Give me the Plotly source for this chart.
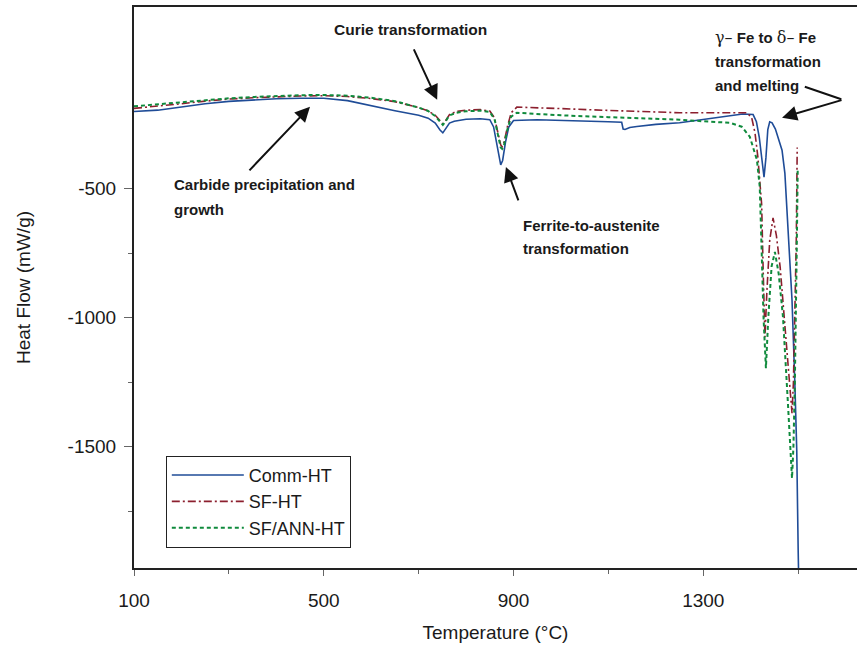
import plotly.graph_objects as go

# ---- data ----
comm_T = [100, 150, 200, 250, 300, 350, 400, 450, 500, 550, 600, 650, 700, 720, 735, 745, 751, 757, 765,
          775, 800, 830, 850, 858, 865, 870, 873, 877, 883, 890, 900, 950, 1000, 1050, 1100, 1128, 1131,
          1135, 1145, 1160, 1200, 1250, 1300, 1350, 1383, 1405, 1412, 1418, 1423, 1428, 1432, 1436, 1440,
          1445, 1452, 1460, 1466, 1472, 1476, 1480, 1487, 1493, 1497, 1500, 1502]
comm_Y = [-200, -195, -183, -170, -161, -155, -151, -149, -149, -158, -178, -197, -215, -226, -245, -272,
          -283, -268, -245, -238, -230, -228, -232, -260, -330, -390, -407, -390, -320, -260, -235, -232,
          -234, -236, -240, -242, -268, -270, -262, -258, -250, -244, -232, -218, -210, -212, -240, -300,
          -380, -455, -380, -270, -240, -244, -268, -315, -350, -440, -560, -700, -931, -1253, -1513,
          -1900, -2100]

sf_T = [100, 150, 200, 250, 300, 350, 400, 450, 500, 550, 600, 650, 700, 720, 735, 745, 751, 757, 765,
        780, 800, 830, 850, 860, 867, 873, 876, 880, 887, 895, 907, 950, 1000, 1100, 1200, 1250, 1300,
        1350, 1392, 1402, 1409, 1415, 1419, 1423, 1426, 1430, 1434, 1440, 1447, 1454, 1462, 1470, 1476,
        1483, 1487, 1490, 1493, 1496, 1498]
sf_Y = [-188, -180, -170, -160, -152, -147, -143, -140, -139, -142, -150, -162, -185, -198, -215, -238,
        -248, -235, -212, -200, -195, -193, -198, -225, -280, -330, -337, -320, -260, -205, -183, -185,
        -189, -196, -202, -205, -205, -204, -205, -224, -283, -376, -477, -560, -800, -1075, -900, -700,
        -613, -680, -803, -980, -1125, -1280, -1370, -1250, -997, -700, -340]

ann_T = [100, 150, 200, 250, 300, 350, 400, 450, 500, 550, 600, 650, 700, 720, 735, 745, 751, 757, 765,
         780, 800, 830, 850, 860, 867, 873, 876, 880, 887, 895, 907, 950, 1000, 1100, 1200, 1250, 1300,
         1356, 1381, 1398, 1413, 1419, 1423, 1427, 1432, 1437, 1444, 1451, 1459, 1468, 1478, 1487, 1490,
         1493, 1497, 1499]
ann_Y = [-180, -172, -163, -155, -149, -144, -140, -137, -136, -139, -147, -160, -185, -198, -218, -242,
         -252, -238, -215, -205, -199, -197, -202, -230, -290, -340, -345, -330, -270, -220, -205, -210,
         -215, -222, -228, -232, -238, -244, -259, -298, -387, -492, -737, -1000, -1195, -1000, -800,
         -745, -830, -997, -1319, -1622, -1500, -1253, -737, -430]

x_ticks = [100, 500, 900, 1300]
x_labels = ["100", "500", "900", "1300"]
x_minor = [300, 700, 1100, 1500]
y_ticks = [-500, -1000, -1500]
y_labels = ["-500", "-1000", "-1500"]
y_minor = [-750, -1250, -1750]

FONT = "Liberation Sans, Arial, Helvetica, sans-serif"

fig = go.Figure()
fig.add_trace(go.Scatter(x=comm_T, y=comm_Y, mode="lines", name="Comm-HT",
                         line=dict(color="#1f4c97", width=1.6)))
fig.add_trace(go.Scatter(x=sf_T, y=sf_Y, mode="lines", name="SF-HT",
                         line=dict(color="#8c1f2e", width=1.6, dash="8px,3px,2px,3px")))
fig.add_trace(go.Scatter(x=ann_T, y=ann_Y, mode="lines", name="SF/ANN-HT",
                         line=dict(color="#0f8a3c", width=2, dash="4px,3px")))

annots = []
bold = dict(family=FONT, size=15, color="#1a1a1a")
# text labels
annots.append(dict(x=682, y=117, text="<b>Curie transformation</b>", showarrow=False,
                   xanchor="center", yanchor="middle", font=dict(bold, size=15.5)))
annots.append(dict(x=180, y=-484, text="<b>Carbide precipitation and</b>", showarrow=False,
                   xanchor="left", yanchor="middle", font=bold))
annots.append(dict(x=180, y=-582, text="<b>growth</b>", showarrow=False,
                   xanchor="left", yanchor="middle", font=bold))
annots.append(dict(x=916, y=-644, text="<b>Ferrite-to-austenite</b>", showarrow=False,
                   xanchor="left", yanchor="middle", font=bold))
annots.append(dict(x=916, y=-733, text="<b>transformation</b>", showarrow=False,
                   xanchor="left", yanchor="middle", font=bold))
annots.append(dict(x=1320, y=86,
                   text="<span style='font-family:DejaVu Serif;font-size:16px'>γ–</span>&nbsp;<b>Fe to</b> "
                        "<span style='font-family:DejaVu Serif;font-size:16px'>δ–</span>&nbsp;<b>Fe</b>",
                   showarrow=False, xanchor="left", yanchor="middle", font=bold))
annots.append(dict(x=1320, y=-7, text="<b>transformation</b>", showarrow=False,
                   xanchor="left", yanchor="middle", font=bold))
annots.append(dict(x=1320, y=-100, text="<b>and melting</b>", showarrow=False,
                   xanchor="left", yanchor="middle", font=bold))

arrow = dict(showarrow=True, text="", arrowhead=2, arrowsize=1.5, arrowwidth=2,
             arrowcolor="#111111", xref="x", yref="y")
annots.append(dict(arrow, x=739, y=-155, ax=-24, ay=-52))
annots.append(dict(arrow, x=471, y=-182, ax=-62, ay=65))
annots.append(dict(arrow, x=884, y=-415, ax=13, ay=35))
annots.append(dict(arrow, x=1466, y=-224, ax=61, ay=-18))
annots.append(dict(arrow, x=1514, y=-104, ax=38, ay=13, arrowhead=0))

fig.update_layout(
    width=857, height=649,
    margin=dict(l=134, r=0, t=7, b=81),
    paper_bgcolor="white", plot_bgcolor="white",
    font=dict(family=FONT, size=19, color="#1a1a1a"),
    showlegend=True,
    legend=dict(x=0.044, y=0.2, xanchor="left", yanchor="top",
                bgcolor="white", bordercolor="#222222", borderwidth=1,
                font=dict(family=FONT, size=18, color="#1a1a1a"),
                itemwidth=72, tracegroupgap=0),
    annotations=annots,
)
fig.update_xaxes(range=[100, 1624], tickmode="array", tickvals=x_ticks, ticktext=x_labels,
                 ticks="outside", ticklen=6, tickcolor="#666666", tickwidth=1, ticklabelstandoff=8,
                 minor=dict(tickmode="array", tickvals=x_minor, ticks="outside", ticklen=4,
                            tickcolor="#666666", showgrid=False),
                 showline=True, linecolor="#222222", linewidth=2, mirror=True,
                 showgrid=False, zeroline=False,
                 title=dict(text="Temperature (°C)", font=dict(size=19), standoff=16))
fig.update_yaxes(range=[-1970, 205], tickmode="array", tickvals=y_ticks, ticktext=y_labels,
                 ticks="outside", ticklen=8, tickcolor="#666666", tickwidth=1, ticklabelstandoff=4,
                 minor=dict(tickmode="array", tickvals=y_minor, ticks="outside", ticklen=4,
                            tickcolor="#666666", showgrid=False),
                 showline=True, linecolor="#222222", linewidth=2, mirror=False,
                 showgrid=False, zeroline=False,
                 title=dict(text="Heat Flow (mW/g)", font=dict(size=19), standoff=32))

fig.write_html("out.html")
